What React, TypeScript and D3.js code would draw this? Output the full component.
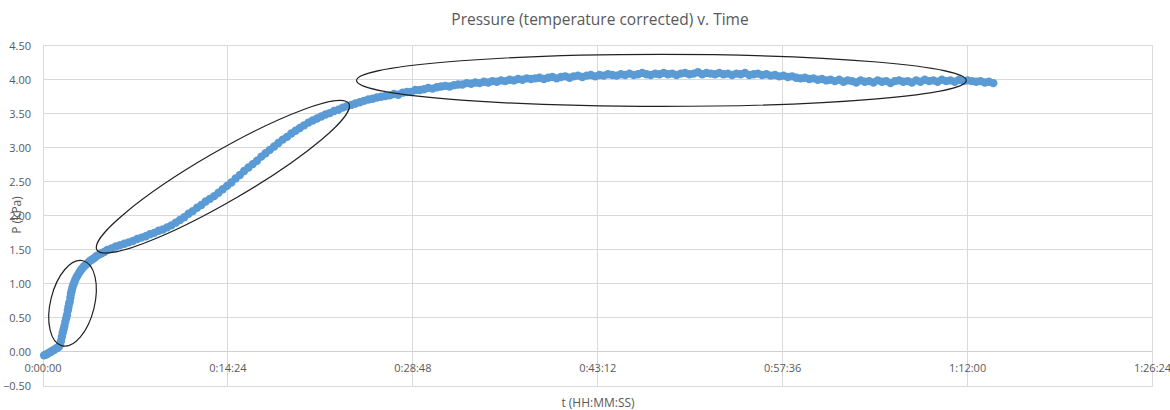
import React from 'react';
import * as d3 from 'd3';

// logger samples: elapsed time (s) and corrected pressure (kPa)
const timeSec = [
  5, 12, 20, 28, 36, 44, 52, 60, 68, 75,
  80, 84, 88, 92, 96, 100, 104, 108, 112, 116,
  119, 122, 125, 128, 131, 134, 137, 141, 146, 151,
  157, 163, 170, 177, 184, 192, 200, 210, 220, 230,
  240, 250, 262, 274, 286, 300,
  320, 340, 360, 380, 400, 420, 440, 460, 480, 500,
  520, 540, 560, 580, 600, 620, 640, 660, 680, 700,
  720, 740, 760, 780, 800, 820, 840, 860, 880, 900,
  920, 940, 960, 980, 1000, 1020, 1040, 1060, 1080, 1100,
  1120, 1140, 1160, 1180, 1200, 1220, 1240, 1260, 1280, 1300,
  1320, 1340, 1360, 1380, 1400, 1420, 1440, 1460, 1480, 1500,
  1520, 1540, 1560, 1580, 1600,
  1620, 1640, 1660, 1680, 1700, 1720, 1740, 1760, 1780, 1800,
  1820, 1840, 1860, 1880, 1900, 1920, 1940, 1960, 1980, 2000,
  2020, 2040, 2060, 2080, 2100, 2120, 2140, 2160, 2180, 2200,
  2220, 2240, 2260, 2280, 2300, 2320, 2340, 2360, 2380, 2400,
  2420, 2440, 2460, 2480, 2500, 2520, 2540, 2560, 2580, 2600,
  2620, 2640, 2660, 2680, 2700, 2720, 2740, 2760, 2780, 2800,
  2820, 2840, 2860, 2880, 2900, 2920, 2940, 2960, 2980, 3000,
  3020, 3040, 3060, 3080, 3100, 3120, 3140, 3160, 3180, 3200,
  3220, 3240, 3260, 3280, 3300, 3320, 3340, 3360, 3380, 3400,
  3420, 3440, 3460, 3480, 3500, 3520, 3540, 3560, 3580, 3600,
  3620, 3640, 3660, 3680, 3700, 3720, 3740, 3760, 3780, 3800,
  3820, 3840, 3860, 3880, 3900, 3920, 3940, 3960, 3980, 4000,
  4020, 4040, 4060, 4080, 4100, 4120, 4140, 4160, 4180, 4200,
  4220, 4240, 4260, 4280, 4300, 4320, 4340, 4360, 4380, 4400,
  4420, 4440,
];

const pressureKPa = [
  -0.05, -0.04, -0.03, -0.01, 0.0, 0.02, 0.03, 0.05, 0.06, 0.08,
  0.11, 0.16, 0.22, 0.28, 0.33, 0.38, 0.44, 0.49, 0.54, 0.61,
  0.66, 0.71, 0.74, 0.8, 0.86, 0.9, 0.94, 0.98, 1.02, 1.06,
  1.1, 1.13, 1.17, 1.2, 1.23, 1.26, 1.28, 1.31, 1.34, 1.36,
  1.38, 1.41, 1.43, 1.45, 1.47, 1.5,
  1.52, 1.55, 1.57, 1.59, 1.61, 1.63, 1.66, 1.68, 1.7, 1.73,
  1.75, 1.78, 1.8, 1.83, 1.86, 1.9, 1.94, 1.98, 2.03, 2.07,
  2.12, 2.16, 2.21, 2.25, 2.29, 2.34, 2.39, 2.44, 2.49, 2.55,
  2.6, 2.66, 2.71, 2.76, 2.81, 2.87, 2.92, 2.97, 3.02, 3.07,
  3.12, 3.16, 3.21, 3.25, 3.29, 3.33, 3.37, 3.4, 3.43, 3.46,
  3.49, 3.51, 3.54, 3.56, 3.59, 3.61, 3.63, 3.65, 3.67, 3.69,
  3.71, 3.72, 3.74, 3.75, 3.76,
  3.77, 3.79, 3.78, 3.81, 3.82, 3.82, 3.85, 3.85, 3.86, 3.88,
  3.87, 3.89, 3.9, 3.91, 3.9, 3.92, 3.93, 3.93, 3.95, 3.94,
  3.96, 3.95, 3.97, 3.96, 3.98, 3.97, 3.99, 3.98, 4.0, 3.99,
  4.01, 4.0, 4.02, 4.01, 4.02, 4.03, 4.01, 4.03, 4.04, 4.02,
  4.04, 4.05, 4.03, 4.05, 4.06, 4.04, 4.06, 4.07, 4.05, 4.07,
  4.06, 4.08, 4.07, 4.06, 4.08, 4.07, 4.09, 4.07, 4.08, 4.1,
  4.08, 4.07, 4.09, 4.08, 4.1, 4.08, 4.09, 4.07, 4.09, 4.1,
  4.08, 4.09, 4.11, 4.08, 4.1, 4.09, 4.08, 4.1, 4.08, 4.09,
  4.07, 4.09, 4.08, 4.1, 4.07, 4.08, 4.09, 4.07, 4.08, 4.06,
  4.07, 4.05, 4.06, 4.04, 4.05, 4.03, 4.02, 4.03, 4.01, 4.02,
  4.0, 4.01, 3.99, 4.0, 3.98, 4.0, 3.97, 3.99, 3.98, 3.96,
  3.99, 3.97, 3.98, 3.96, 3.99, 3.97, 3.98, 3.95, 3.98, 3.99,
  3.97, 3.98, 3.96, 3.99, 3.97, 4.0, 3.98, 3.99, 3.97, 4.0,
  3.98, 3.99, 3.97, 4.0, 3.98, 3.99, 3.98, 3.97, 3.98, 3.96,
  3.97, 3.95,
];

const xTicksSec = [0, 864, 1728, 2592, 3456, 4320, 5184];
const yTicks = [-0.5, 0, 0.5, 1, 1.5, 2, 2.5, 3, 3.5, 4, 4.5];

// hand-drawn rings, given by the two ends of the long axis (t, P)
const rings = [
  { from: [89, 0.09], to: [187, 1.34], half: 22 },
  { from: [252, 1.5], to: [1429, 3.65], half: 25 },
  { from: [1465, 3.99], to: [4314, 3.99], half: 26 },
];

const W = 1170;
const H = 410;
const FONT = '"Open Sans", "Liberation Sans", sans-serif';
const TEXT = '#595959';
const GRID = '#d9d9d9';

const hms = (s: number) => {
  const h = Math.floor(s / 3600);
  const m = Math.floor((s % 3600) / 60);
  const sec = s % 60;
  return `${h}:${String(m).padStart(2, '0')}:${String(sec).padStart(2, '0')}`;
};

export default function App() {
  const x = d3.scaleLinear().domain([0, 5184]).range([43, 1152.5]);
  const y = d3.scaleLinear().domain([-0.5, 4.5]).range([386, 45.7]);

  const points = d3.zip(timeSec, pressureKPa);

  return (
    <svg width={W} height={H} style={{ position: 'absolute', left: 0, top: 0, background: '#fff' }}>
      <rect width={W} height={H} fill="#fff" />

      {yTicks.map((v) => (
        <line key={'gy' + v} x1={x(0)} x2={x(5184)} y1={y(v)} y2={y(v)}
          stroke={v === 0 ? '#cfcfcf' : GRID} strokeWidth={1} shapeRendering="crispEdges" />
      ))}
      {xTicksSec.map((t) => (
        <line key={'gx' + t} x1={x(t)} x2={x(t)} y1={y(4.5)} y2={y(-0.5)}
          stroke={GRID} strokeWidth={1} shapeRendering="crispEdges" />
      ))}

      {points.map(([t, p], i) => (
        <circle key={i} cx={x(t)} cy={y(p)} r={4.2} fill="#5b9bd5" />
      ))}

      {rings.map((r, i) => {
        const x1 = x(r.from[0]), y1 = y(r.from[1]);
        const x2 = x(r.to[0]), y2 = y(r.to[1]);
        const cx = (x1 + x2) / 2, cy = (y1 + y2) / 2;
        const len = Math.hypot(x2 - x1, y2 - y1) / 2;
        const ang = (Math.atan2(y2 - y1, x2 - x1) * 180) / Math.PI;
        return (
          <ellipse key={'r' + i} cx={cx} cy={cy} rx={len} ry={r.half}
            transform={`rotate(${ang} ${cx} ${cy})`}
            fill="none" stroke="#222" strokeWidth={1.2} />
        );
      })}

      {yTicks.map((v) => (
        <text key={'ly' + v} x={31} y={y(v)} dy="0.35em" textAnchor="end"
          fontFamily={FONT} fontSize={11} fill={TEXT}>
          {d3.format('.2f')(v)}
        </text>
      ))}
      {xTicksSec.map((t) => (
        <text key={'lx' + t} x={x(t)} y={372} textAnchor="middle"
          fontFamily={FONT} fontSize={11} fill={TEXT}>
          {hms(t)}
        </text>
      ))}

      <text x={600} y={25} textAnchor="middle" fontFamily={FONT} fontSize={15.5} fill={TEXT}>
        Pressure (temperature corrected) v. Time
      </text>
      <text x={598} y={407} textAnchor="middle" fontFamily={FONT} fontSize={12} fill={TEXT}>
        t (HH:MM:SS)
      </text>
      <text transform="translate(21,215) rotate(-90)" textAnchor="middle"
        fontFamily={FONT} fontSize={12} fill={TEXT}>
        P (kPa)
      </text>
    </svg>
  );
}
